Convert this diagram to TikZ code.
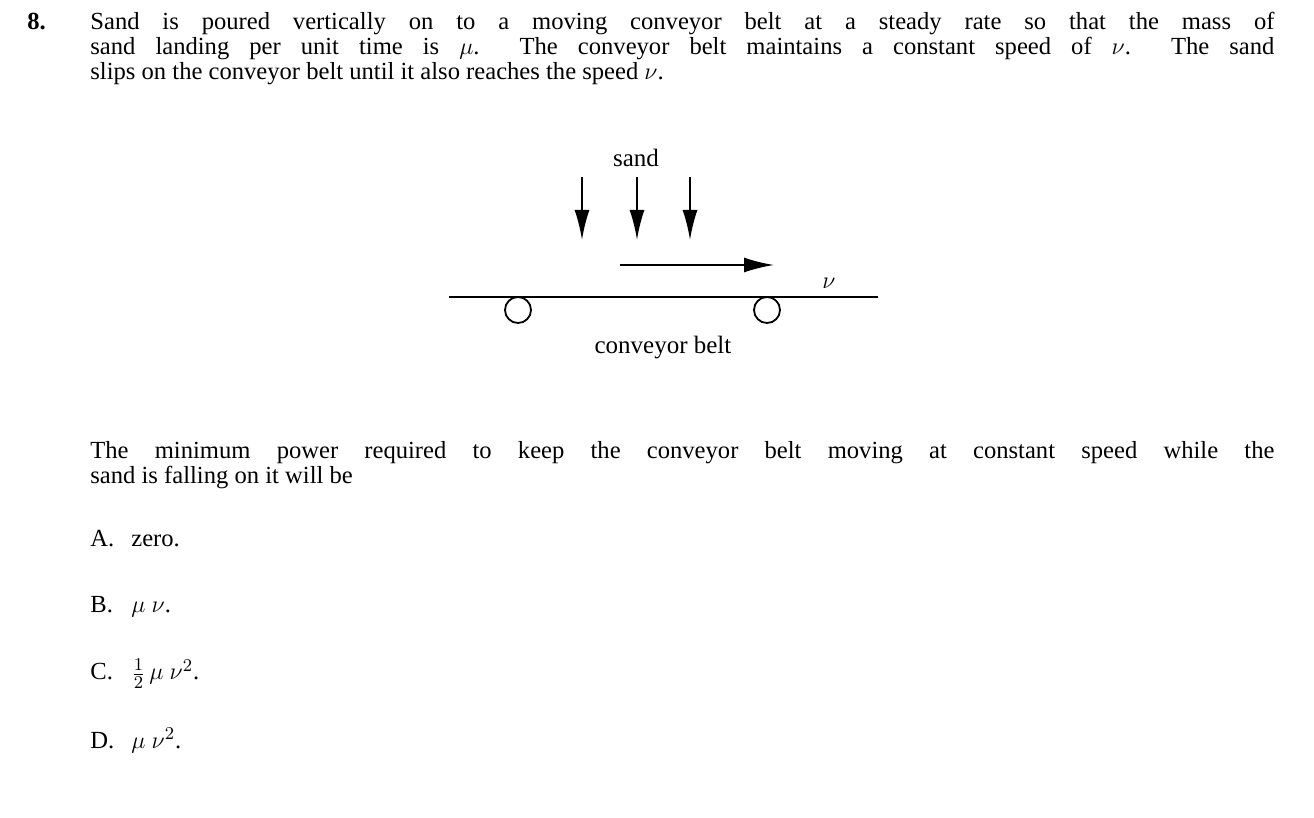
\documentclass[tikz,border=0pt]{standalone}
\usepackage{fontspec}
\setmainfont{Liberation Serif}
\usetikzlibrary{arrows.meta}
\begin{document}
\begin{tikzpicture}[x=0.5pt,y=-0.5pt,
  txt/.style={anchor=base west,inner sep=0pt,font=\fontsize{12.3pt}{14pt}\selectfont},
  lbl/.style={inner sep=0pt,font=\fontsize{12.5pt}{15pt}\selectfont},
  arr/.style={line width=1pt,-{Latex[length=15pt,width=7.5pt]}}]
\useasboundingbox (0,0) rectangle (1314,818);
\node[txt] (n8) at (27,30) {\textbf{8.}};
\node[txt] (l1) at (90,30) {\makebox[592pt][s]{Sand is poured vertically on to a moving conveyor belt at a steady rate so that the mass of}};
\node[txt] (l2) at (90,55) {\makebox[592pt][s]{sand landing per unit time is $\mu$.\ \ The conveyor belt maintains a constant speed of $\nu$.\ \ The sand}};
\node[txt] (l3) at (90,80) {slips on the conveyor belt until it also reaches the speed $\nu$.};
\node[lbl] (sand) at (636,158) {sand};
\coordinate (s1) at (582,177); \coordinate (e1) at (582,240);
\coordinate (s2) at (637,177); \coordinate (e2) at (637,240);
\coordinate (s3) at (690,177); \coordinate (e3) at (690,240);
\draw[arr] (s1) -- (e1);
\draw[arr] (s2) -- (e2);
\draw[arr] (s3) -- (e3);
\coordinate (hs) at (620,265); \coordinate (he) at (774,265);
\draw[arr] (hs) -- (he);
\node[lbl] (nu) at (829,283) {$\nu$};
\coordinate (bl) at (449,297); \coordinate (br) at (878,297);
\draw[line width=0.9pt] (bl) -- (br);
\node[draw,line width=0.9pt,circle,minimum size=13pt,inner sep=0pt] (w1) at (518,310) {};
\node[draw,line width=0.9pt,circle,minimum size=13pt,inner sep=0pt] (w2) at (767,310) {};
\node[lbl] (cb) at (663,348) {conveyor belt};
\node[txt] (q1) at (90,459) {\makebox[592pt][s]{The minimum power required to keep the conveyor belt moving at constant speed while the}};
\node[txt] (q2) at (90,484) {sand is falling on it will be};
\node[txt] (a) at (90,546) {A.};\node[txt] (at) at (131,546) {zero.};
\node[txt] (b) at (90,613) {B.};\node[txt] (bt) at (131,613) {$\mu\ \nu$.};
\node[txt] (c) at (90,680) {C.};\node[txt] (ct) at (131,680) {$\frac{1}{2}\,\mu\ \nu^2$.};
\node[txt] (d) at (90,748) {D.};\node[txt] (dt) at (131,748) {$\mu\ \nu^2$.};
\end{tikzpicture}
\end{document}
